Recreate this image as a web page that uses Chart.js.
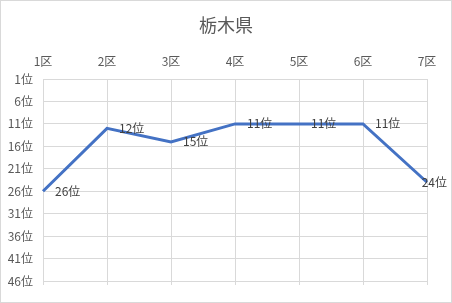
<!DOCTYPE html>
<html>
<head>
    <meta charset="UTF-8">
    <title>栃木県</title>
    <style>
        body { margin: 0; padding: 0; background: #fff; }
        canvas { display: block; }
    </style>
</head>
<body>
    <canvas id="myChart" width="452" height="303"></canvas>

    <script src="https://cdn.jsdelivr.net/npm/chart.js"></script>
    <script>
        // datos
        var chartTitle = '栃木県';
        var districts = ['1区', '2区', '3区', '4区', '5区', '6区', '7区'];
        var ranks = [26, 12, 15, 11, 11, 11, 24];
        var rankTicks = [1, 6, 11, 16, 21, 26, 31, 36, 41, 46];

        var FONT = '"Noto Sans CJK JP", "Noto Sans", sans-serif';
        var gridColor = '#d9d9d9';

        // título centrado en todo el lienzo, etiquetas de datos y marco
        var extras = {
            id: 'extras',
            afterDatasetsDraw: function(chart) {
                var ctx = chart.ctx;
                var meta = chart.getDatasetMeta(0);
                ctx.save();
                ctx.font = '12px ' + FONT;
                ctx.fillStyle = '#404040';
                ctx.textBaseline = 'middle';
                ctx.textAlign = 'left';
                meta.data.forEach(function(pt, i) {
                    var txt = ranks[i] + '位';
                    var w = ctx.measureText(txt).width;
                    var x = Math.min(pt.x + 12, chart.width - 5 - w);
                    ctx.fillText(txt, x, pt.y);
                });
                ctx.restore();
            },
            afterDraw: function(chart) {
                var ctx = chart.ctx;
                var area = chart.chartArea;
                var xs = chart.scales.x;
                ctx.save();
                ctx.font = '18px ' + FONT;
                ctx.fillStyle = '#595959';
                ctx.textAlign = 'center';
                ctx.textBaseline = 'middle';
                ctx.fillText(chartTitle, chart.width / 2, 25);

                ctx.strokeStyle = gridColor;
                ctx.lineWidth = 1;
                // marcas bajo el área
                districts.forEach(function(d, i) {
                    var x = Math.round(xs.getPixelForValue(i)) + 0.5;
                    ctx.beginPath();
                    ctx.moveTo(x, area.bottom);
                    ctx.lineTo(x, area.bottom + 4);
                    ctx.stroke();
                });
                ctx.strokeRect(0.5, 0.5, chart.width - 1, chart.height - 1);
                ctx.restore();
            }
        };

        var ctx = document.getElementById('myChart').getContext('2d');
        var chart = new Chart(ctx, {
            type: 'line',
            data: {
                labels: districts,
                datasets: [{
                    label: chartTitle,
                    data: ranks,
                    borderColor: '#4472c4',
                    borderWidth: 3,
                    pointRadius: 0,
                    tension: 0,
                    fill: false
                }]
            },
            options: {
                responsive: false,
                animation: false,
                layout: { padding: { left: 0, right: 25, top: 44, bottom: 22 } },
                plugins: {
                    legend: { display: false },
                    tooltip: { enabled: false },
                    title: { display: false }
                },
                scales: {
                    x: {
                        position: 'top',
                        offset: false,
                        grid: { color: gridColor, drawTicks: false },
                        border: { display: false },
                        ticks: {
                            color: '#595959',
                            font: { family: FONT, size: 12 },
                            padding: 10,
                            maxRotation: 0
                        },
                        afterFit: function(scale) { scale.height = 35; }
                    },
                    y: {
                        reverse: true,
                        min: 1,
                        max: 46,
                        grid: { color: gridColor, drawTicks: false },
                        border: { display: false },
                        ticks: {
                            color: '#595959',
                            font: { family: FONT, size: 12 },
                            padding: 10,
                            callback: function(v) { return v + '位'; }
                        },
                        afterBuildTicks: function(scale) {
                            scale.ticks = rankTicks.map(function(v) { return { value: v }; });
                        },
                        afterFit: function(scale) { scale.width = 43; }
                    }
                }
            },
            plugins: [extras]
        });
    </script>
</body>
</html>
